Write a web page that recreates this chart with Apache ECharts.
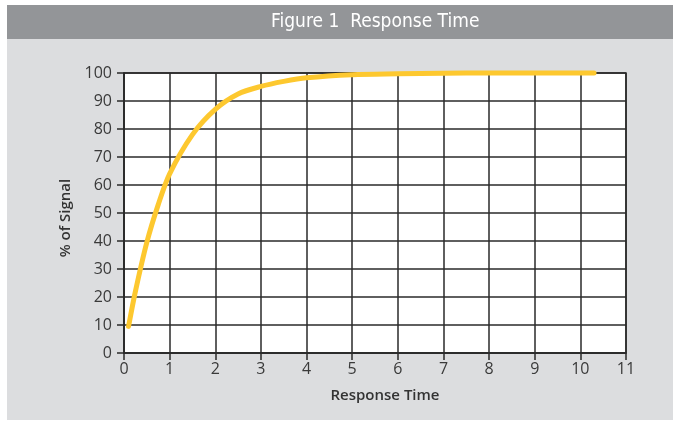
<!DOCTYPE html>
<html>
<head>
<meta charset="utf-8">
<script src="https://cdn.jsdelivr.net/npm/echarts@6/dist/echarts.min.js"></script>
<style>
html,body{margin:0;padding:0;background:#fff;}
#c{width:673px;height:421px;}
</style>
</head>
<body>
<div id="c"></div>
<script>
const titleText = 'Figure 1  Response Time';
const xName = 'Response Time';
const yName = '% of Signal';
const times  = [0.1, 0.25, 0.5, 0.75, 1.0, 1.5, 2.0, 2.5, 3.0, 3.5, 4.0, 5.0, 6.0, 7.0, 8.0, 9.0, 10.3];
const signal = [9.5, 22, 39.5, 53, 64, 78, 87, 92.5, 95.2, 97, 98.3, 99.4, 99.7, 99.9, 100, 100, 100];

const chart = echarts.init(document.getElementById('c'), null, {renderer:'canvas'});
const tickFont = "'Open Sans', 'DejaVu Sans', sans-serif";
chart.setOption({
  animation:false,
  backgroundColor:'#ffffff',
  graphic:[
    {type:'rect', z:-10, shape:{x:7,y:5,width:666,height:415}, style:{fill:'#dcdddf'}},
    {type:'rect', z:-9, shape:{x:7,y:5,width:666,height:34}, style:{fill:'#939598'}},
    {type:'text', z:5, left:271, top:13, style:{text:titleText, fill:'#ffffff', font:"19px 'Liberation Sans Narrow', 'DejaVu Sans Condensed', 'Open Sans', sans-serif"}}
  ],
  grid:{left:124, right:47, top:73, bottom:68, show:true, backgroundColor:'#ffffff', borderColor:'#2a2a2a', borderWidth:1.5},
  xAxis:{
    type:'value', min:0, max:11, interval:1,
    name:xName, nameLocation:'middle', nameGap:35,
    nameTextStyle:{fontFamily:tickFont, fontWeight:600, fontSize:15, color:'#333', padding:[0,0,0,20]},
    axisLine:{show:true, lineStyle:{color:'#2a2a2a', width:1.5}},
    axisTick:{show:true, length:7, lineStyle:{color:'#2a2a2a', width:1.5}},
    axisLabel:{fontFamily:tickFont, fontSize:16, color:'#3a3a3a', margin:8},
    splitLine:{show:true, lineStyle:{color:'#2a2a2a', width:1.5}}
  },
  yAxis:{
    type:'value', min:0, max:100, interval:10,
    name:yName, nameLocation:'middle', nameGap:50, nameRotate:90,
    nameTextStyle:{fontFamily:tickFont, fontWeight:600, fontSize:15, color:'#333', padding:[0,10,0,0]},
    axisLine:{show:true, lineStyle:{color:'#2a2a2a', width:1.5}},
    axisTick:{show:true, length:7, lineStyle:{color:'#2a2a2a', width:1.5}},
    axisLabel:{fontFamily:tickFont, fontSize:16, color:'#3a3a3a', margin:12},
    splitLine:{show:true, lineStyle:{color:'#2a2a2a', width:1.5}}
  },
  series:[{
    type:'line',
    data:times.map((t,i)=>[t, signal[i]]),
    smooth:0.3,
    showSymbol:false,
    symbol:'none',
    clip:false,
    lineStyle:{color:'#fdc82f', width:5, cap:'round', join:'round'}
  }]
});
</script>
</body>
</html>
